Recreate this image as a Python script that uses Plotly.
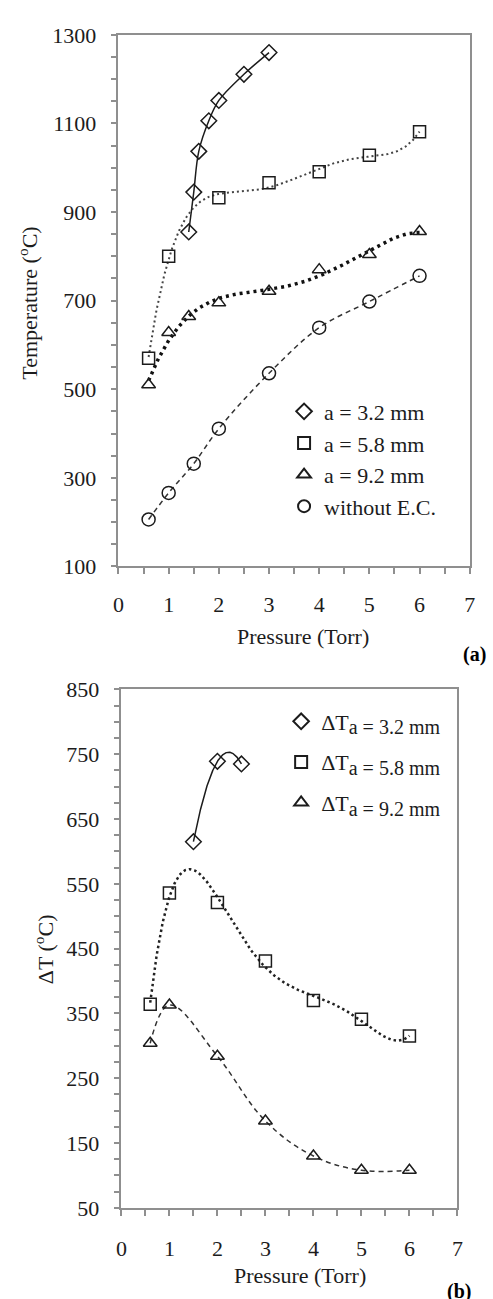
import numpy as np
import plotly.graph_objects as go

# ---- (a) electrode temperature vs pressure ----
p_32 = [1.4, 1.5, 1.6, 1.8, 2.0, 2.5, 3.0]
t_32 = [855, 945, 1037, 1106, 1152, 1211, 1260]
p_58 = [0.6, 1, 2, 3, 4, 5, 6]
t_58 = [570, 800, 932, 966, 991, 1028, 1081]
p_92 = [0.6, 1, 1.4, 2, 3, 4, 5, 6]
t_92 = [510, 628, 664, 695, 721, 770, 804, 856]
p_ref = [0.6, 1, 1.5, 2, 3, 4, 5, 6]
t_ref = [206, 266, 332, 411, 536, 639, 698, 756]

# ---- (b) temperature rise vs pressure ----
dp_32 = [1.5, 2.0, 2.5]
dt_32 = [615, 739, 735]
dp_58 = [0.6, 1, 2, 3, 4, 5, 6]
dt_58 = [364, 536, 521, 431, 370, 341, 315]
dp_92 = [0.6, 1, 2, 3, 4, 5, 6]
dt_92 = [304, 363, 284, 184, 130, 108, 108]

x_ticks = list(range(0, 8))

W, H = 493, 1299
FONT = "'Liberation Serif', 'Times New Roman', Times, serif"
AX = "#8f8f8f"
INK = "#1c1c1c"


def trend(x, y, deg, n=300):
    c = np.polyfit(x, y, deg)
    xs = np.linspace(min(x), max(x), n)
    return xs, np.polyval(c, xs)


def px_x(v):
    return v / W


def px_y(v):
    return 1 - v / H


fig = go.Figure()

# trend curves (a)
fig.add_trace(go.Scatter(x=p_32, y=t_32, mode="lines", line=dict(color=INK, width=1.5, shape="spline"),
                         showlegend=False, hoverinfo="skip", xaxis="x", yaxis="y"))
xs, ys = trend(p_58, t_58, 5)
fig.add_trace(go.Scatter(x=xs, y=ys, mode="lines", line=dict(color="#444", width=2, dash="2px,3px"),
                         showlegend=False, hoverinfo="skip", xaxis="x", yaxis="y"))
xs, ys = trend(p_92, t_92, 4)
fig.add_trace(go.Scatter(x=xs, y=ys, mode="lines", line=dict(color="#111", width=3.5, dash="3px,4px"),
                         showlegend=False, hoverinfo="skip", xaxis="x", yaxis="y"))
fig.add_trace(go.Scatter(x=p_ref, y=t_ref, mode="lines", line=dict(color="#333", width=1.5, dash="5px,4px", shape="spline"),
                         showlegend=False, hoverinfo="skip", xaxis="x", yaxis="y"))

mk = dict(color=INK, width=1.5)
for x, y, sym, size, name, g in [
    (p_32, t_32, "diamond-open", 12, "a = 3.2 mm", "g1"),
    (p_58, t_58, "square-open", 12, "a = 5.8 mm", "g2"),
    (p_92, t_92, "triangle-up-open", 12, "a = 9.2 mm", "g3"),
    (p_ref, t_ref, "circle-open", 13, "without E.C.", "g4"),
]:
    fig.add_trace(go.Scatter(x=x, y=y, mode="markers", name=name, legendgroup=g,
                             marker=dict(symbol=sym, size=size, color=INK, line=mk),
                             xaxis="x", yaxis="y", legend="legend"))

# trend curves (b)
xs, ys = trend(dp_32, dt_32, 2)
fig.add_trace(go.Scatter(x=xs, y=ys, mode="lines", line=dict(color=INK, width=1.5),
                         showlegend=False, hoverinfo="skip", xaxis="x2", yaxis="y2"))
xs, ys = trend(dp_58, dt_58, 5)
fig.add_trace(go.Scatter(x=xs, y=ys, mode="lines", line=dict(color="#222", width=2.5, dash="2.5px,3px"),
                         showlegend=False, hoverinfo="skip", xaxis="x2", yaxis="y2"))
fig.add_trace(go.Scatter(x=dp_92, y=dt_92, mode="lines",
                         line=dict(color="#333", width=1.5, dash="5px,4px", shape="spline", smoothing=1.1),
                         showlegend=False, hoverinfo="skip", xaxis="x2", yaxis="y2"))

sub = "<sub><span style='font-size:20px'>a = {} mm</span></sub>"
for x, y, sym, size, lab, g in [
    (dp_32, dt_32, "diamond-open", 12, "3.2", "h1"),
    (dp_58, dt_58, "square-open", 12, "5.8", "h2"),
    (dp_92, dt_92, "triangle-up-open", 12, "9.2", "h3"),
]:
    fig.add_trace(go.Scatter(x=x, y=y, mode="markers", name="ΔT" + sub.format(lab), legendgroup=g,
                             marker=dict(symbol=sym, size=size, color=INK, line=mk),
                             xaxis="x2", yaxis="y2", legend="legend2"))

tickfont = dict(family=FONT, size=22, color=INK)
common = dict(showline=True, linecolor=AX, linewidth=1.5, mirror=True, showgrid=False, zeroline=False,
              ticks="outside", ticklen=6, tickwidth=1.5, tickcolor=AX, tickfont=tickfont)

fig.update_layout(
    width=W, height=H, margin=dict(l=0, r=0, t=0, b=0),
    paper_bgcolor="white", plot_bgcolor="white",
    font=dict(family=FONT, color=INK),
    xaxis=dict(domain=[px_x(115.3), px_x(475.3)], range=[0, 7], tickvals=x_ticks, anchor="y",
               minor=dict(dtick=0.5, ticks="outside", ticklen=6, tickwidth=1.5, tickcolor=AX),
               ticklabelstandoff=11, **common),
    yaxis=dict(domain=[px_y(565.3), px_y(23.3)], range=[100, 1300], tick0=100, dtick=200, anchor="x",
               minor=dict(dtick=50, ticks="outside", ticklen=6, tickwidth=1.5, tickcolor=AX),
               ticklabelstandoff=10, **common),
    xaxis2=dict(domain=[px_x(118.3), px_x(462.7)], range=[0, 7], tickvals=x_ticks, anchor="y2",
                minor=dict(dtick=0.5, ticks="outside", ticklen=6, tickwidth=1.5, tickcolor=AX),
                ticklabelstandoff=14, **common),
    yaxis2=dict(domain=[px_y(1219.3), px_y(690.7)], range=[50, 850], tick0=50, dtick=100, anchor="x2",
                minor=dict(dtick=25, ticks="outside", ticklen=6, tickwidth=1.5, tickcolor=AX),
                ticklabelstandoff=10, **common),
    legend=dict(x=px_x(285), y=px_y(386), xanchor="left", yanchor="top", bgcolor="rgba(0,0,0,0)",
                font=dict(family=FONT, size=22, color=INK), itemsizing="constant",
                tracegroupgap=0, traceorder="grouped"),
    legend2=dict(x=px_x(282), y=px_y(702), xanchor="left", yanchor="top", bgcolor="rgba(0,0,0,0)",
                 font=dict(family=FONT, size=22, color=INK), itemsizing="constant",
                 tracegroupgap=9, traceorder="grouped"),
)

title_font = dict(family=FONT, size=22, color=INK)
for text, x, y, ang in [
    ("Pressure (Torr)", 304, 637, 0),
    ("Pressure (Torr)", 301, 1288, 0),
    ("Temperature (<sup>o</sup>C)", 23, 297, -90),
    ("ΔT (<sup>o</sup>C)", 38.5, 956, -90),
]:
    fig.add_annotation(text=text, x=px_x(x), y=px_y(y), xref="paper", yref="paper",
                       xanchor="center", yanchor="middle", showarrow=False, textangle=ang,
                       font=title_font)

fig.add_annotation(text="<b>(a)</b>", x=px_x(480), y=px_y(641), xref="paper", yref="paper",
                   xanchor="center", yanchor="top", showarrow=False,
                   font=dict(family=FONT, size=20, color="#000"))
fig.add_annotation(text="<b>(b)</b>", x=px_x(464), y=px_y(1291), xref="paper", yref="paper",
                   xanchor="center", yanchor="top", showarrow=False,
                   font=dict(family=FONT, size=20, color="#000"))

fig.write_html("out.html")
